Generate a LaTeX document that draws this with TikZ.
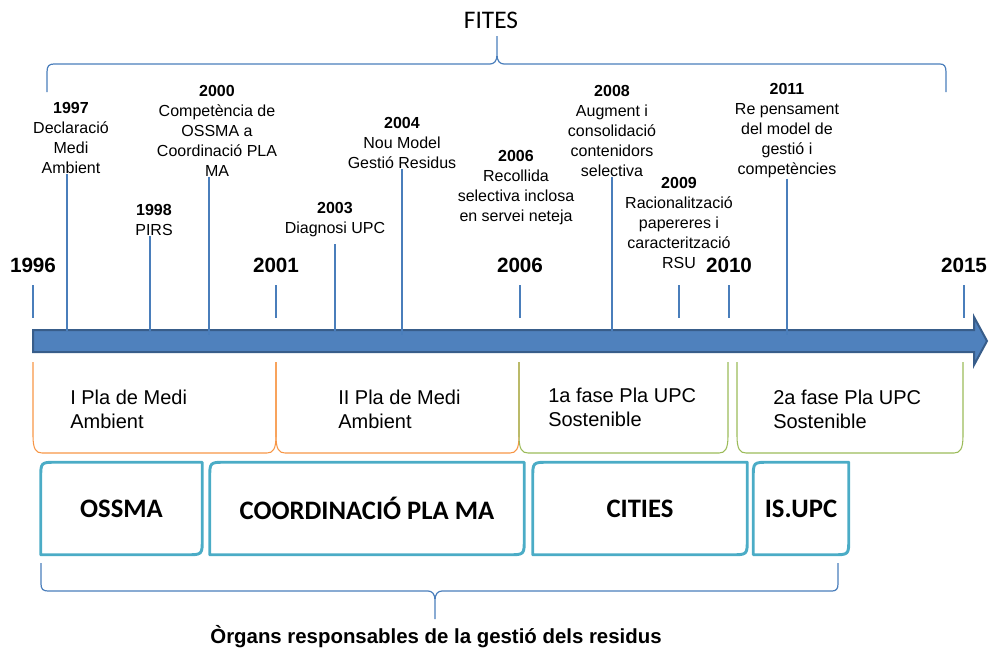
\documentclass[tikz,border=0pt]{standalone}
\usepackage{fontspec}
\setmainfont{Liberation Sans}
\newfontfamily\calibri{Carlito}
\usepackage{tikz}
\usetikzlibrary{positioning}
\definecolor{barblue}{RGB}{79,129,189}
\definecolor{bardark}{RGB}{56,93,138}
\definecolor{lineblue}{RGB}{74,126,187}
\definecolor{phaseorange}{RGB}{247,150,70}
\definecolor{phasegreen}{RGB}{155,187,89}
\definecolor{organcyan}{RGB}{75,172,198}
\tikzset{
  organ/.style={
    minimum height=69pt, text centered, inner sep=0pt, font=\calibri\fontsize{20}{24}\selectfont\bfseries, append after command={
      \pgfextra{
        \draw[organcyan, line width=2.2pt, line join=round] ([yshift=-12pt]\tikzlastnode.north west)
            .. controls (\tikzlastnode.north west) .. ([xshift=12pt]\tikzlastnode.north west)
            -- (\tikzlastnode.north east) -- ([yshift=12pt]\tikzlastnode.south east)
            .. controls (\tikzlastnode.south east) .. ([xshift=-12pt]\tikzlastnode.south east)
            -- (\tikzlastnode.south west) -- cycle; % cantonades arrodonides en diagonal
      }
    }
  },
  milestone/.style={align=center, inner sep=0pt, font=\fontsize{12}{15}\selectfont},
  yearlabel/.style={inner sep=0pt, font=\fontsize{15.5}{18}\selectfont\bfseries},
  phase/.style={align=left, anchor=west, inner sep=0pt, font=\fontsize{15}{18}\selectfont},
  title/.style={inner sep=0pt, font=\calibri\fontsize{19}{22}\selectfont},
  caption/.style={inner sep=0pt, font=\fontsize{15.3}{18}\selectfont\bfseries},
  thinline/.style={draw=lineblue, line width=0.8pt},
  thickline/.style={draw=lineblue, line width=1.6pt},
  tick/.style={draw=lineblue, line width=0.8pt},
  bracket/.style={draw=lineblue, line width=0.9pt},
  phaseline/.style={line width=0.8pt},
  axis/.style={fill=barblue, draw=bardark, line width=1.5pt, line join=miter}
}

\begin{document}
\begin{tikzpicture}[x=0.75pt, y=-0.75pt]
  \useasboundingbox (0,0) rectangle (989,650);

  \coordinate (ticktop) at (0,285);
  \coordinate (tickbottom) at (0,318);
  \coordinate (axistop) at (0,331);
  \coordinate (axisin) at (0,335);

  \node (fites) [title] at (491,20) {FITES};
  \draw [bracket] (47,92) -- (47,72) .. controls (47,66) and (49,64) .. (54,64) -- (490,64)
      .. controls (494,64) and (497,61) .. (497,55) -- (497,36) -- (497,55)
      .. controls (497,61) and (500,64) .. (504,64) -- (940,64)
      .. controls (944,64) and (946,66) .. (946,72) -- (946,92);

  \draw [axis] (33,330) -- (974,330) -- (974,317) -- (987,341) -- (974,365) -- (974,352) -- (33,352) -- cycle;

  \node (year1996) [yearlabel] at (33,265) {1996};
  \node (year2001) [yearlabel] at (276,265) {2001};
  \node (year2006) [yearlabel] at (520,265) {2006};
  \node (year2010) [yearlabel] at (729,265) {2010};
  \node (year2015) [yearlabel] at (964,265) {2015};

  \node (m1997) [milestone] at (71,138) {\textbf{1997}\\Declaració\\Medi\\Ambient};
  \node (m1998) [milestone] at (154,220) {\textbf{1998}\\PIRS};
  \node (m2000) [milestone] at (217,131) {\textbf{2000}\\Competència de\\OSSMA a\\Coordinació PLA\\MA};
  \node (m2003) [milestone] at (335,220) {\textbf{2003}\\Diagnosi UPC};
  \node (m2004) [milestone] at (402,143) {\textbf{2004}\\Nou Model\\Gestió Residus};
  \node (m2006) [milestone] at (516,188) {\textbf{2006}\\Recollida\\selectiva inclosa\\en servei neteja};
  \node (m2008) [milestone] at (612,131) {\textbf{2008}\\Augment i\\consolidació\\contenidors\\selectiva};
  \node (m2009) [milestone] at (679,223) {\textbf{2009}\\Racionalització\\papereres i\\caracterització\\RSU};
  \node (m2011) [milestone] at (787,131) {\textbf{2011}\\Re pensament\\del model de\\gestió i\\competències};

  \foreach \y in {year1996, year2001, year2006, year2010, year2015, m2009}
    \draw [tick] (\y |- ticktop) -- (\y |- tickbottom);

  \draw [thinline] ([xshift=-3pt]m1997.south) -- ([xshift=-3pt]m1997.south |- axistop);
  \draw [thinline] ([xshift=-3pt]m1998.south) -- ([xshift=-3pt]m1998.south |- axistop);
  \draw [thickline] ([xshift=-6pt]m2000.south) -- ([xshift=-6pt]m2000.south |- axisin);
  \draw [thinline] ([yshift=-5pt]m2003.south) -- (m2003.south |- axistop);
  \draw [thickline] (m2004.south) -- (m2004.south |- axisin);
  \draw [thinline] (m2008.south) -- (m2008.south |- axistop);
  \draw [thickline] (m2011.south) -- (m2011.south |- axisin);

  \foreach \a/\b/\c in {33/276/phaseorange, 276/519/phaseorange, 519/728/phasegreen, 737/963/phasegreen}
    \draw [phaseline, \c] (\a,362) -- (\a,436) .. controls (\a,449) and (\a+3,453) .. (\a+9,453)
        -- (\b-9,453) .. controls (\b-3,453) and (\b,449) .. (\b,436) -- (\b,362);

  \node (phase1) [phase] at (70,409) {I Pla de Medi\\Ambient};
  \node (phase2) [phase] at (338,409) {II Pla de Medi\\Ambient};
  \node (phase3) [phase] at (548,407) {1a fase Pla UPC\\Sostenible};
  \node (phase4) [phase] at (773,409) {2a fase Pla UPC\\Sostenible};

  \node (ossma) [organ, minimum width=120.75pt] at (121.5,508.5) {OSSMA};
  \node (coordinacio) [organ, minimum width=235.5pt] at (367,508.5) {COORDINACIÓ PLA MA};
  \node (cities) [organ, minimum width=160.5pt] at (640,508.5) {CITIES};
  \node (isupc) [organ, minimum width=71.25pt] at (801,508.5) {IS.UPC};

  \draw [bracket] (41,563) -- (41,584) .. controls (41,589) and (43,591) .. (48,591) -- (428,591)
      .. controls (432,591) and (435,594) .. (435,600) -- (435,619) -- (435,600)
      .. controls (435,594) and (438,591) .. (442,591) -- (832,591)
      .. controls (836,591) and (838,589) .. (838,584) -- (838,563);
  \node (organs) [caption] at (436,637) {Òrgans responsables de la gestió dels residus};
\end{tikzpicture}
\end{document}
